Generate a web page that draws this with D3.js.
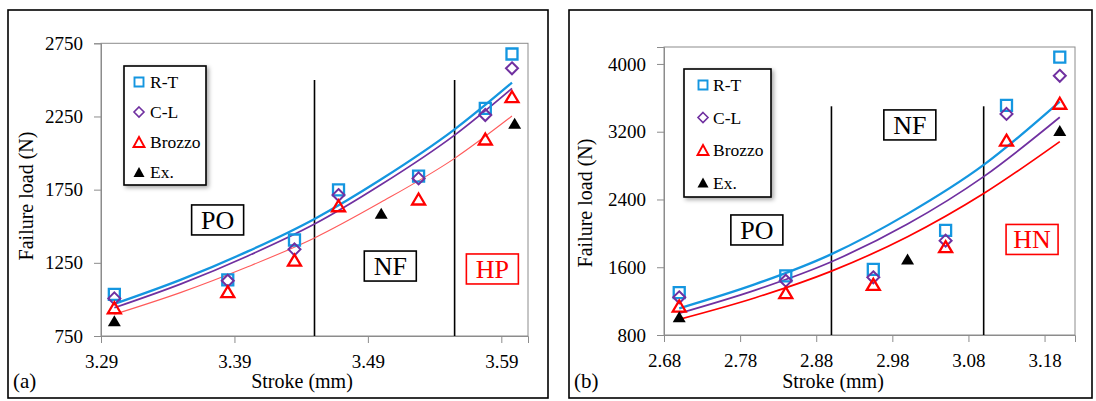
<!DOCTYPE html>
<html>
<head>
<meta charset="utf-8">
<script src="https://cdn.jsdelivr.net/npm/d3@7"></script>
<style>
  html, body { margin: 0; padding: 0; background: #fff; }
  svg { display: block; }
</style>
</head>
<body>
<script>
// ---------- Panel (a) ----------
const strokeA   = [3.300, 3.385, 3.435, 3.468, 3.528, 3.578, 3.598];
const rtA       = [1035, 1133, 1406, 1748, 1843, 2306, 2677];
const clA       = [1007, 1128, 1342, 1713, 1827, 2260, 2579];
const brozzoA   = [943, 1053, 1269, 1640, 1686, 2096, 2385];
const exStrokeA = [3.300, 3.500, 3.600];
const exA       = [855, 1588, 2203];
// trend curves
const fitStrokeA = [3.300, 3.350, 3.400, 3.450, 3.500, 3.555, 3.598];
const fitRtA     = [969, 1135, 1328, 1550, 1821, 2162, 2481];
const fitClA     = [943, 1106, 1297, 1515, 1785, 2123, 2442];
const fitBrA     = [898, 1048, 1223, 1420, 1665, 1964, 2253];
const xTicksA = [3.29, 3.39, 3.49, 3.59];
const yTicksA = [750, 1250, 1750, 2250, 2750];
const dividersA = [3.45, 3.555];
const dividerTopA = 2500;
const zoneLabelsA = [
  { text: "PO", s: 3.3774, v: 1543, red: false },
  { text: "NF", s: 3.5068, v: 1228, red: false },
  { text: "HP", s: 3.5833, v: 1208, red: true }
];

// ---------- Panel (b) ----------
const strokeB   = [2.700, 2.840, 2.955, 3.050, 3.130, 3.200];
const rtB       = [1300, 1497, 1575, 2035, 3510, 4080];
const clB       = [1245, 1441, 1481, 1914, 3410, 3860];
const brozzoB   = [1142, 1300, 1398, 1843, 3100, 3536];
const exStrokeB = [2.700, 3.000, 3.200];
const exB       = [1016, 1697, 3213];
const fitStrokeB = [2.70, 2.80, 2.90, 3.00, 3.10, 3.20];
const fitRtB     = [1115, 1400, 1755, 2230, 2808, 3556];
const fitClB     = [1056, 1330, 1665, 2110, 2670, 3371];
const fitBrB     = [985, 1240, 1554, 1960, 2470, 3083];
const xTicksB = [2.68, 2.78, 2.88, 2.98, 3.08, 3.18];
const yTicksB = [800, 1600, 2400, 3200, 4000];
const dividersB = [2.90, 3.10];
const dividerTopB = 3500;
const zoneLabelsB = [
  { text: "PO", s: 2.802, v: 2040, red: false },
  { text: "NF", s: 3.003, v: 3280, red: false },
  { text: "HN", s: 3.1636, v: 1928, red: true }
];

const seriesNames = ["R-T", "C-L", "Brozzo", "Ex."];

const BLUE = "#1496e0", PURPLE = "#7030a0", RED = "#ff0000";
const SERIF = "'Liberation Serif', 'Times New Roman', 'DejaVu Serif', serif";

const svg = d3.select("body").append("svg")
  .attr("width", 1096).attr("height", 401)
  .style("font-family", SERIF);

const defs = svg.append("defs");
const shadow = defs.append("filter").attr("id", "legendShadow")
  .attr("x", "-20%").attr("y", "-20%").attr("width", "140%").attr("height", "140%");
shadow.append("feDropShadow").attr("dx", 2).attr("dy", 2)
  .attr("stdDeviation", 2).attr("flood-color", "#000").attr("flood-opacity", 0.35);

// marker outlines centred on (0,0)
const squarePath = s => `M${-s/2},${-s/2}h${s}v${s}h${-s}Z`;
const diamondPath = (w, h) => `M0,${-h/2}L${w/2},0L0,${h/2}L${-w/2},0Z`;
const trianglePath = (w, h) => `M0,${-h/2}L${w/2},${h/2}L${-w/2},${h/2}Z`;

function addText(parent) {
  return parent.append("text").style("font-family", SERIF).style("fill", "#000");
}

function drawPanel(p) {
  const g = svg.append("g");
  // outer frame
  g.append("rect")
    .attr("x", p.frame[0]).attr("y", p.frame[1])
    .attr("width", p.frame[2] - p.frame[0]).attr("height", p.frame[3] - p.frame[1])
    .attr("fill", "none").attr("stroke", "#000").attr("stroke-width", 1.6);

  const x = d3.scaleLinear().domain(p.xDomain).range([p.plot[0], p.plot[2]]);
  const y = d3.scaleLinear().domain(p.yDomain).range([p.plot[3], p.plot[1]]);

  // plot area border
  g.append("rect")
    .attr("x", p.plot[0]).attr("y", p.plot[1])
    .attr("width", p.plot[2] - p.plot[0]).attr("height", p.plot[3] - p.plot[1])
    .attr("fill", "none").attr("stroke", "#8c8c8c").attr("stroke-width", 1);

  // axes
  const xAxis = g.append("g").attr("transform", `translate(0,${p.plot[3]})`)
    .call(d3.axisBottom(x).tickValues(p.xTicks).tickFormat(d3.format(".2f"))
      .tickSize(7).tickPadding(12));
  const yAxis = g.append("g").attr("transform", `translate(${p.plot[0]},0)`)
    .call(d3.axisLeft(y).tickValues(p.yTicks).tickFormat(d3.format("d"))
      .tickSize(7).tickPadding(11));
  [xAxis, yAxis].forEach(a => {
    a.attr("font-family", null).style("font-family", SERIF);
    a.select(".domain").attr("stroke", "#8c8c8c");
    a.selectAll(".tick line").attr("stroke", "#8c8c8c");
    a.selectAll(".tick text").attr("font-size", 19)
      .style("font-family", SERIF).style("fill", "#000");
  });

  // zone dividers
  g.selectAll(".divider").data(p.dividers).enter().append("line")
    .attr("x1", d => x(d)).attr("x2", d => x(d))
    .attr("y1", y(p.dividerTop)).attr("y2", y(p.yDomain[0]))
    .attr("stroke", "#000").attr("stroke-width", 1.6);

  // trend curves
  const line = d3.line().x(d => x(d[0])).y(d => y(d[1])).curve(d3.curveMonotoneX);
  const fits = [
    { v: p.fitRt, color: BLUE, w: 2.3 },
    { v: p.fitCl, color: PURPLE, w: 1.7 },
    { v: p.fitBr, color: p.redFit, w: p.redFitWidth }
  ];
  fits.forEach(f => {
    g.append("path")
      .datum(p.fitStroke.map((s, i) => [s, f.v[i]]))
      .attr("d", line).attr("fill", "none")
      .attr("stroke", f.color).attr("stroke-width", f.w);
  });

  // markers
  const pts = (xs, vs) => xs.map((s, i) => [s, vs[i]]);
  g.selectAll(".rt").data(pts(p.stroke, p.rt)).enter().append("path")
    .attr("transform", d => `translate(${x(d[0])},${y(d[1])})`)
    .attr("d", squarePath(11)).attr("fill", "none").attr("stroke", BLUE).attr("stroke-width", 2.3);
  g.selectAll(".cl").data(pts(p.stroke, p.cl)).enter().append("path")
    .attr("transform", d => `translate(${x(d[0])},${y(d[1])})`)
    .attr("d", diamondPath(12, 12)).attr("fill", "none").attr("stroke", PURPLE).attr("stroke-width", 2);
  g.selectAll(".br").data(pts(p.stroke, p.br)).enter().append("path")
    .attr("transform", d => `translate(${x(d[0])},${y(d[1])})`)
    .attr("d", trianglePath(13, 11)).attr("fill", "none").attr("stroke", RED).attr("stroke-width", 2.3);
  g.selectAll(".ex").data(pts(p.exStroke, p.ex)).enter().append("path")
    .attr("transform", d => `translate(${x(d[0])},${y(d[1])})`)
    .attr("d", trianglePath(13, 11)).attr("fill", "#000");

  // zone label boxes
  p.zones.forEach(z => {
    const cx = x(z.s), cy = y(z.v);
    const col = z.red ? RED : "#000";
    g.append("rect")
      .attr("x", cx - 26).attr("y", cy - 15).attr("width", 52).attr("height", 30)
      .attr("fill", "#fff").attr("stroke", col).attr("stroke-width", 1.6);
    addText(g).attr("x", cx).attr("y", cy + 9)
      .attr("text-anchor", "middle").attr("font-size", 26)
      .style("fill", col).text(z.text);
  });

  // legend
  const L = p.legend;
  g.append("rect")
    .attr("x", L.x).attr("y", L.y).attr("width", L.w).attr("height", L.h)
    .attr("fill", "#fff").attr("stroke", "#000").attr("stroke-width", 1.6)
    .attr("filter", "url(#legendShadow)");
  const legendMarks = [
    { d: squarePath(9), fill: "none", stroke: BLUE, sw: 1.9 },
    { d: diamondPath(10, 10), fill: "none", stroke: PURPLE, sw: 1.6 },
    { d: trianglePath(11, 10), fill: "none", stroke: RED, sw: 1.9 },
    { d: trianglePath(11, 10), fill: "#000", stroke: "none", sw: 0 }
  ];
  seriesNames.forEach((name, i) => {
    const ry = L.y + L.first + i * L.step;
    const m = legendMarks[i];
    g.append("path").attr("transform", `translate(${L.mx},${ry})`)
      .attr("d", m.d).attr("fill", m.fill).attr("stroke", m.stroke).attr("stroke-width", m.sw);
    addText(g).attr("x", L.tx).attr("y", ry + 6)
      .attr("font-size", 17.5).text(name);
  });

  // axis titles and panel tag
  addText(g)
    .attr("transform", `translate(${p.yTitle[0]},${p.yTitle[1]}) rotate(-90)`)
    .attr("text-anchor", "middle").attr("font-size", 20).text("Failure load (N)");
  addText(g).attr("x", p.xTitle[0]).attr("y", p.xTitle[1])
    .attr("text-anchor", "middle").attr("font-size", 20).text("Stroke (mm)");
  addText(g).attr("x", p.tag[0]).attr("y", p.tag[1])
    .attr("font-size", 21).text(p.tagText);
}

drawPanel({
  frame: [8, 10, 548, 398],
  plot: [101, 43.3, 528, 336],
  xDomain: [3.29, 3.61], yDomain: [750, 2750],
  xTicks: xTicksA, yTicks: yTicksA,
  dividers: dividersA, dividerTop: dividerTopA,
  stroke: strokeA, rt: rtA, cl: clA, br: brozzoA,
  exStroke: exStrokeA, ex: exA,
  fitStroke: fitStrokeA, fitRt: fitRtA, fitCl: fitClA, fitBr: fitBrA,
  redFit: "#ff5a5a", redFitWidth: 1.1,
  zones: zoneLabelsA,
  legend: { x: 124, y: 66, w: 82, h: 119, first: 16, step: 30, mx: 139, tx: 150 },
  yTitle: [33, 196], xTitle: [302, 388], tag: [13, 388], tagText: "(a)"
});

drawPanel({
  frame: [569, 10, 1092, 398],
  plot: [664, 47, 1075, 335],
  xDomain: [2.68, 3.22], yDomain: [800, 4200],
  xTicks: xTicksB, yTicks: yTicksB,
  dividers: dividersB, dividerTop: dividerTopB,
  stroke: strokeB, rt: rtB, cl: clB, br: brozzoB,
  exStroke: exStrokeB, ex: exB,
  fitStroke: fitStrokeB, fitRt: fitRtB, fitCl: fitClB, fitBr: fitBrB,
  redFit: RED, redFitWidth: 1.7,
  zones: zoneLabelsB,
  legend: { x: 684, y: 69, w: 87, h: 128, first: 16, step: 32.5, mx: 703, tx: 713 },
  yTitle: [592, 203], xTitle: [833, 388], tag: [574, 388], tagText: "(b)"
});
</script>
</body>
</html>
